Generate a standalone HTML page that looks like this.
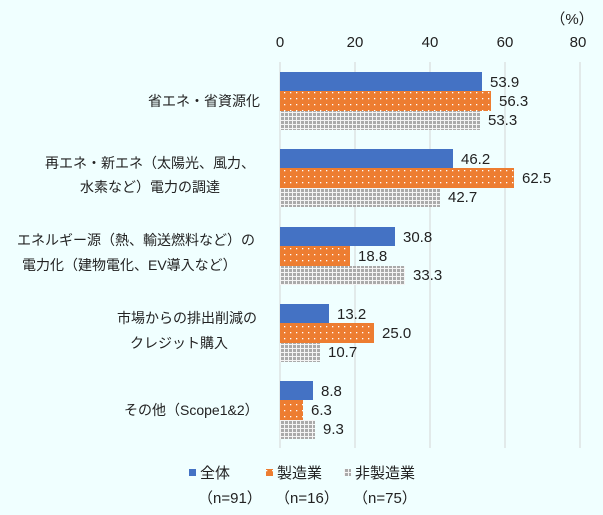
<!DOCTYPE html>
<html><head><meta charset="utf-8"><style>
body{margin:0;background:#f0ffff;}
svg text{font-family:"Liberation Sans","Noto Sans CJK JP",sans-serif;fill:#222;}
</style></head><body>
<svg width="603" height="510" xmlns="http://www.w3.org/2000/svg">
<defs>
<pattern id="dots" width="6" height="6" patternUnits="userSpaceOnUse">
<rect width="6" height="6" fill="#ed7d31"/><rect x="2" y="2" width="1.3" height="1.3" fill="#fff"/>
</pattern>
<pattern id="grid" width="4" height="4" patternUnits="userSpaceOnUse">
<rect width="4" height="4" fill="#f4f4f4"/><rect x="1" y="1" width="3" height="3" fill="#aaaaaa"/>
</pattern>
</defs>
<rect width="603" height="510" fill="#f0ffff"/>
<g stroke="#d4d4d4" stroke-width="1">
<line x1="280" y1="62" x2="280" y2="448"/><line x1="355" y1="62" x2="355" y2="448"/>
<line x1="430" y1="62" x2="430" y2="448"/><line x1="505" y1="62" x2="505" y2="448"/>
<line x1="580" y1="62" x2="580" y2="448"/>
</g>
<g font-size="15" text-anchor="middle">
<text x="280" y="47">0</text><text x="355" y="47">20</text><text x="430" y="47">40</text><text x="505" y="47">60</text><text x="578" y="47">80</text>
<text x="572" y="24">（%）</text>
</g>
<g font-size="15">
<rect x="280" y="72" width="202" height="19" fill="#4472c4"/><rect x="280" y="91" width="211" height="20" fill="url(#dots)"/><rect x="280" y="111" width="200" height="19" fill="url(#grid)"/>
<text x="490" y="87">53.9</text><text x="499" y="106">56.3</text><text x="488" y="125">53.3</text>

<rect x="280" y="149" width="173" height="19" fill="#4472c4"/><rect x="280" y="168" width="234" height="20" fill="url(#dots)"/><rect x="280" y="188" width="160" height="19" fill="url(#grid)"/>
<text x="461" y="164">46.2</text><text x="522" y="183">62.5</text><text x="448" y="202">42.7</text>

<rect x="280" y="227" width="115" height="19" fill="#4472c4"/><rect x="280" y="246" width="70" height="20" fill="url(#dots)"/><rect x="280" y="266" width="125" height="19" fill="url(#grid)"/>
<text x="403" y="242">30.8</text><text x="358" y="261">18.8</text><text x="413" y="280">33.3</text>

<rect x="280" y="304" width="49" height="19" fill="#4472c4"/><rect x="280" y="323" width="94" height="20" fill="url(#dots)"/><rect x="280" y="343" width="40" height="19" fill="url(#grid)"/>
<text x="337" y="319">13.2</text><text x="382" y="338">25.0</text><text x="328" y="357">10.7</text>

<rect x="280" y="381" width="33" height="19" fill="#4472c4"/><rect x="280" y="400" width="23" height="20" fill="url(#dots)"/><rect x="280" y="420" width="35" height="19" fill="url(#grid)"/>
<text x="321" y="396">8.8</text><text x="311" y="415">6.3</text><text x="323" y="434">9.3</text>
</g>
<g font-size="14">
<text x="148" y="106">省エネ・省資源化</text>
<text x="45" y="168">再エネ・新エネ（太陽光、風力、</text><text x="80" y="192">水素など）電力の調達</text>
<text x="17" y="245">エネルギー源（熱、輸送燃料など）の</text><text x="22" y="270">電力化（建物電化、EV導入など）</text>
<text x="117" y="323">市場からの排出削減の</text><text x="130" y="348">クレジット購入</text>
<text x="124" y="415">その他（Scope1&amp;2）</text>
</g>
<g font-size="15">
<rect x="189" y="469" width="7" height="7" fill="#4472c4"/><text x="200" y="478">全体</text>
<rect x="266" y="469" width="7" height="7" fill="url(#dots)"/><text x="277" y="478">製造業</text>
<rect x="344" y="469" width="7" height="7" fill="url(#grid)"/><text x="355" y="478">非製造業</text>
<text x="198" y="503">（n=91）</text><text x="275" y="503">（n=16）</text><text x="353" y="503">（n=75）</text>
</g>
</svg>
</body></html>
